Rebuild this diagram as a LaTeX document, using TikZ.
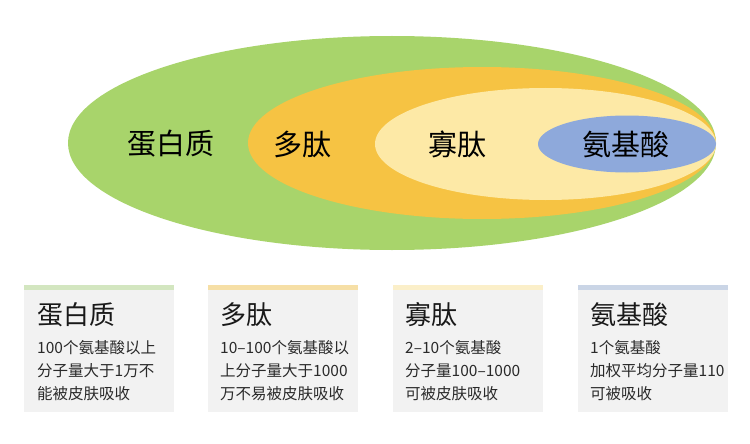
\documentclass[tikz,border=0pt]{standalone}
\usepackage{fontspec}
\setmainfont{Noto Sans CJK SC}
\definecolor{cgreen}{HTML}{A8D46B}
\definecolor{corange}{HTML}{F6C343}
\definecolor{cyellow}{HTML}{FDE9A6}
\definecolor{cblue}{HTML}{8EA9DB}
\definecolor{boxgray}{HTML}{F2F2F2}
\definecolor{bargreen}{HTML}{D3E6C0}
\definecolor{barorange}{HTML}{F6DFA6}
\definecolor{baryellow}{HTML}{FBEFC9}
\definecolor{barblue}{HTML}{CAD5E6}
\definecolor{bodytext}{HTML}{2A2A2A}
\begin{document}
\begin{tikzpicture}[x=1pt,y=-1pt,
  bigtext/.style={font=\fontsize{29}{34}\selectfont, text=black, inner sep=0pt},
  titletext/.style={font=\fontsize{26}{30}\selectfont, text=black!90, inner sep=0pt, anchor=base west},
  bodyline/.style={font=\fontsize{15.5}{20}\selectfont, text=bodytext, inner sep=0pt, anchor=base west},
  infobox/.style={fill=boxgray},
]
\useasboundingbox (0,0) rectangle (750,444);
\fill[white] (0,0) rectangle (750,444);

% nested ellipses
\fill[cgreen]  (392,143)   ellipse [x radius=324pt, y radius=107pt];
\fill[corange] (482,143)   ellipse [x radius=234pt, y radius=76pt];
\fill[cyellow] (545.5,144) ellipse [x radius=170.5pt, y radius=56pt];
\fill[cblue]   (627,144)   ellipse [x radius=89pt, y radius=28.5pt];

\node[bigtext] (e1) at (171,144) {蛋白质};
\node[bigtext] (e2) at (302,144) {多肽};
\node[bigtext] (e3) at (457,144) {寡肽};
\node[bigtext] (e4) at (626,144) {氨基酸};

% info boxes
\fill[infobox] (24,285) rectangle (174,412);
\fill[bargreen] (24,285) rectangle (174,290);
\fill[infobox] (208,285) rectangle (358,412);
\fill[barorange] (208,285) rectangle (358,290);
\fill[infobox] (393,285) rectangle (543,412);
\fill[baryellow] (393,285) rectangle (543,290);
\fill[infobox] (578,285) rectangle (728,412);
\fill[barblue] (578,285) rectangle (728,290);

\node[titletext] (t1) at (37,324) {蛋白质};
\node[bodyline] (b11) at (37,353) {100个氨基酸以上};
\node[bodyline] (b12) at (37,376) {分子量大于1万不};
\node[bodyline] (b13) at (37,399) {能被皮肤吸收};

\node[titletext] (t2) at (220,324) {多肽};
\node[bodyline] (b21) at (220,353) {10–100个氨基酸以};
\node[bodyline] (b22) at (220,376) {上分子量大于1000};
\node[bodyline] (b23) at (220,399) {万不易被皮肤吸收};

\node[titletext] (t3) at (405,324) {寡肽};
\node[bodyline] (b31) at (405,353) {2–10个氨基酸};
\node[bodyline] (b32) at (405,376) {分子量100–1000};
\node[bodyline] (b33) at (405,399) {可被皮肤吸收};

\node[titletext] (t4) at (590,324) {氨基酸};
\node[bodyline] (b41) at (590,353) {1个氨基酸};
\node[bodyline] (b42) at (590,376) {加权平均分子量110};
\node[bodyline] (b43) at (590,399) {可被吸收};
\end{tikzpicture}
\end{document}
